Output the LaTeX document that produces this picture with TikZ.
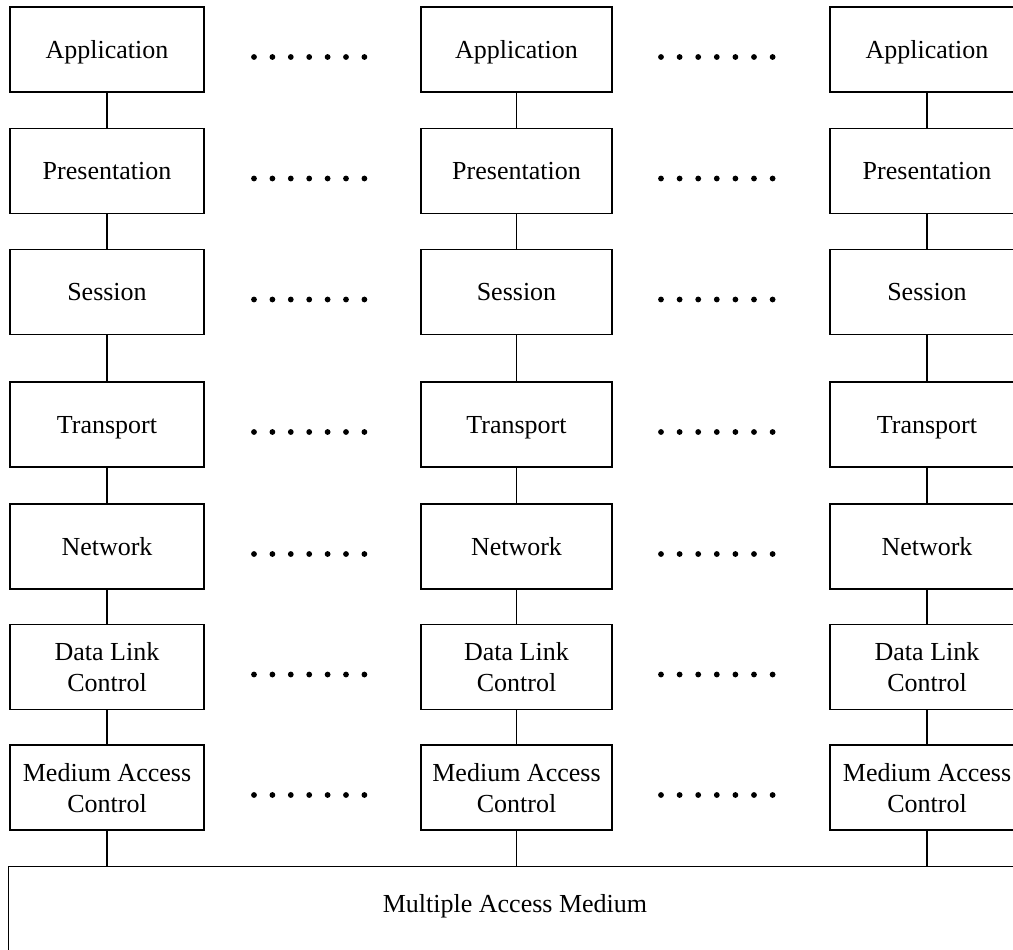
\documentclass[tikz,border=0pt]{standalone}
\usepackage{fontspec}
\setmainfont{Liberation Serif}
\begin{document}
\begin{tikzpicture}[x=1pt,y=-1pt,
  layer/.style={draw, line width=1.3pt, minimum width=194pt, minimum height=85pt,
    inner sep=0pt, align=center, text depth=-5pt, font=\fontsize{26}{31}\selectfont},
  link/.style={line width=1.3pt},
  peer/.style={fill=black}]
\useasboundingbox (0,0) rectangle (1013,950);

% column centres and row centres
\def\colA{107}
\def\colB{516.5}
\def\colC{927}
\foreach \r/\y/\t in {1/49.5/Application, 2/171/Presentation, 3/292/Session,
    4/424.5/Transport, 5/546.5/Network, 6/667/{Data Link\\Control},
    7/787.5/{Medium Access\\Control}} {
  \node[layer] (a\r) at (\colA,\y) {\t};
  \node[layer, minimum width=191pt] (b\r) at (\colB,\y) {\t};
  \node[layer] (c\r) at (\colC,\y) {\t};
  % peer-to-peer dotted relations
  \foreach \k in {0,...,6} {
    \fill[peer] (254+18.4*\k,\y+7.5) circle (2.9);
    \fill[peer] (661+18.6*\k,\y+7.5) circle (2.9);
  }
}

% vertical links between adjacent layers
\foreach \r [evaluate=\r as \s using int(\r+1)] in {1,...,6} {
  \draw[link] (a\r.south) -- (a\s.north);
  \draw[link] (b\r.south) -- (b\s.north);
  \draw[link] (c\r.south) -- (c\s.north);
}

% shared medium
\node[draw, line width=1.3pt, anchor=north west, minimum width=1100pt,
  minimum height=200pt, inner sep=0pt] (medium) at (8,866) {};
\node[font=\fontsize{26}{31}\selectfont] (mlabel) at (515,906) {Multiple Access Medium};

\draw[link] (a7.south) -- (a7.south |- medium.north);
\draw[link] (b7.south) -- (b7.south |- medium.north);
\draw[link] (c7.south) -- (c7.south |- medium.north);
\end{tikzpicture}
\end{document}
